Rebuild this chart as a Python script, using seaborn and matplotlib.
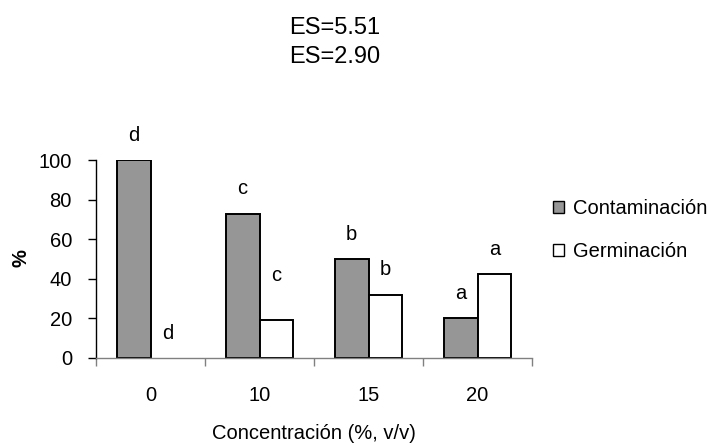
import matplotlib
matplotlib.use("Agg")
import matplotlib.pyplot as plt
import seaborn as sns
import pandas as pd

# Data: percentage of contamination and germination by concentration
concentraciones = ["0", "10", "15", "20"]
contaminacion = [100, 73, 50, 20]
germinacion = [0, 19, 32, 42.5]
letras_contaminacion = ["d", "c", "b", "a"]
letras_germinacion = ["d", "c", "b", "a"]
series = ["Contaminación", "Germinación"]
lineas_es = ["ES=5.51", "ES=2.90"]
yticks = [0, 20, 40, 60, 80, 100]

df = pd.DataFrame({
    "Concentración": concentraciones * 2,
    "valor": contaminacion + germinacion,
    "serie": [series[0]] * len(concentraciones) + [series[1]] * len(concentraciones),
})

sns.set_theme(style="white")
plt.rcParams["font.family"] = ["Liberation Sans", "DejaVu Sans"]
plt.rcParams["text.color"] = "black"
plt.rcParams["axes.labelcolor"] = "black"
FS = 14.5

W, H = 708, 443
fig = plt.figure(figsize=(W / 100, H / 100), dpi=100)
ax = fig.add_axes([96 / W, 1 - 357.7 / H, 436 / W, 197.4 / H])

sns.barplot(
    data=df, x="Concentración", y="valor", hue="serie", hue_order=series,
    order=concentraciones, palette=["#969696", "#ffffff"], saturation=1,
    width=0.62, edgecolor="black", linewidth=1.4, ax=ax,
)

ax.set_xlim(-0.5, len(concentraciones) - 0.5)
ax.set_ylim(0, 100)
ax.set_yticks(yticks)
ax.tick_params(axis="y", labelsize=FS, length=5.8, width=1, color="black",
               labelcolor="black", direction="out", left=True, pad=11.5)

# Category labels without marks; marks on the boundaries between groups
ax.tick_params(axis="x", which="major", length=0, labelsize=FS, pad=20.5,
               labelcolor="black")
ax.set_xticks([i - 0.5 for i in range(len(concentraciones) + 1)], minor=True)
ax.tick_params(axis="x", which="minor", length=5.8, width=1, color="#808080",
               direction="out", bottom=True)

for side in ["top", "right"]:
    ax.spines[side].set_visible(False)
ax.spines["left"].set_color("black")
ax.spines["left"].set_linewidth(1)
ax.spines["bottom"].set_color("#808080")
ax.spines["bottom"].set_linewidth(1)
ax.spines["bottom"].set_zorder(5)

ax.set_xlabel("Concentración (%, v/v)", fontsize=FS)
ax.xaxis.set_label_coords(0.5, -0.335)
ax.set_ylabel("")
fig.text(21 / W, 1 - 258 / H, "%", rotation=90, fontsize=FS, fontweight="bold",
         ha="center", va="center")

# Significance letters above each bar; empty bars get no outline
letras = [letras_contaminacion, letras_germinacion]
for k, (cont, labs) in enumerate(zip(ax.containers, letras)):
    for i, (bar, lab) in enumerate(zip(cont, labs)):
        if bar.get_height() == 0:
            bar.set_linewidth(0)
        cx = bar.get_x() + bar.get_width() / 2
        lift = 22.5 if (k == 1 and i == 1) else 12.5
        ax.text(cx, bar.get_height() + lift, lab, fontsize=FS,
                ha="center", va="center", clip_on=False)

# Header lines
for j, txt in enumerate(lineas_es):
    fig.text(335 / W, 1 - (28 + 29 * j) / H, txt, fontsize=17,
             ha="center", va="center")

leg = ax.legend(
    loc="center left", bbox_to_anchor=(553 / W, 1 - 230 / H),
    bbox_transform=fig.transFigure, frameon=False, fontsize=FS,
    handlelength=0.55, handleheight=0.55, handletextpad=0.45,
    labelspacing=1.2, borderpad=0, borderaxespad=0,
)
for h in leg.legend_handles:
    h.set_edgecolor("black")
    h.set_linewidth(1)

fig.savefig("out.png", dpi=100)
